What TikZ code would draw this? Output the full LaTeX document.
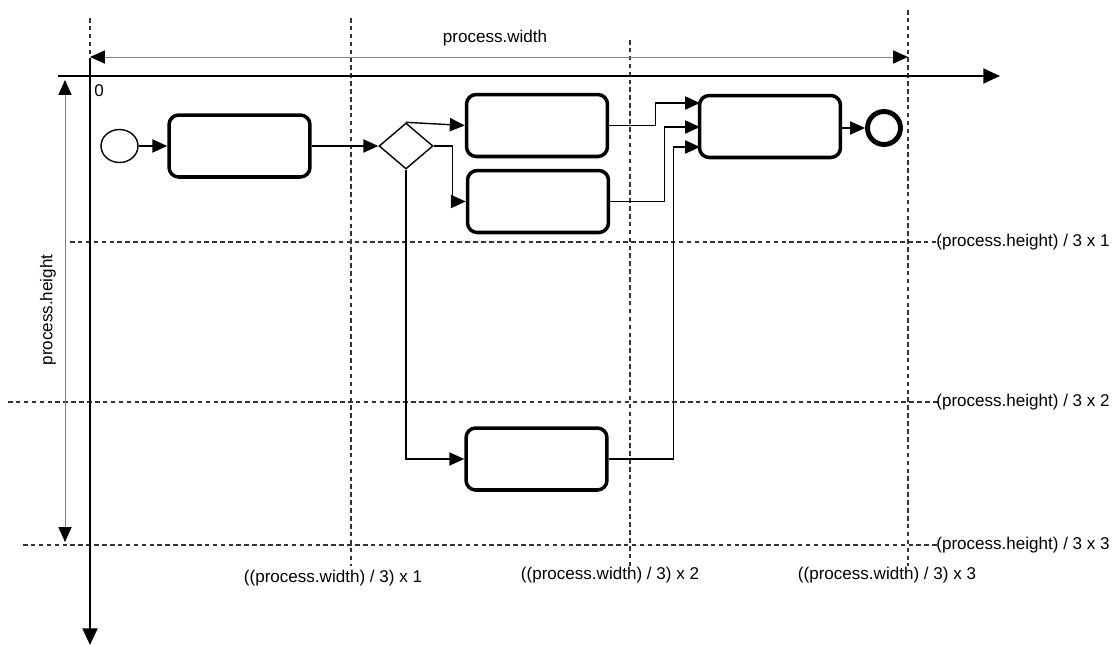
\documentclass[tikz,border=0pt]{standalone}
\usepackage{fontspec}
\setmainfont{Liberation Sans}
\usetikzlibrary{arrows.meta,shapes.geometric,calc}
\begin{document}
\begin{tikzpicture}[x=0.02cm,y=-0.02cm,
  every node/.style={font=\fontsize{9.7}{11}\selectfont},
  task/.style={draw,line width=2pt,rounded corners=5.5pt,minimum width=2.82cm,minimum height=1.24cm,inner sep=0pt},
  flow/.style={line width=0.8pt,-{Triangle[length=8.5pt,width=7.5pt]}},
  axis/.style={line width=1.3pt,-{Triangle[length=9.5pt,width=8.5pt]}},
  dim/.style={line width=0.5pt,draw=black!50,{Triangle[length=8.5pt,width=7.5pt,color=black]}-{Triangle[length=8.5pt,width=7.5pt,color=black]}},
  guide/.style={line width=0.6pt,draw=black!80,dash pattern=on 2.6pt off 1.9pt},
  lbl/.style={inner sep=0pt}]
\useasboundingbox (0,0) rectangle (1117,646);
% guide lines
\draw[guide] (90,18) -- (90,58);
\draw[guide] (351,18) -- (351,566);
\draw[guide] (630,40) -- (630,566);
\draw[guide] (908,10) -- (908,566);
\draw[guide] (70,242) -- (940,242);
\draw[guide] (8,402) -- (940,402);
\draw[guide] (23,545) -- (940,545);
% axes
\coordinate (xs) at (58,76);
\coordinate (xe) at (1000,76);
\coordinate (ys) at (90,58);
\coordinate (ye) at (90,645);
\draw[axis] (xs) -- (xe);
\draw[axis] (ys) -- (ye);
% dimensions
\coordinate (wl) at (90,57);
\coordinate (wr) at (908,57);
\coordinate (ht) at (65,80);
\coordinate (hb) at (65,542);
\draw[dim] (wl) -- (wr);
\draw[dim] (ht) -- (hb);
\node[lbl] (wlab) at (495,38) {process.width};
\node[lbl,rotate=90] (hlab) at (48,310) {process.height};
\node[lbl] (zero) at (99,91) {0};
% guide labels
\node[lbl,anchor=west] (h1) at (936,242) {(process.height) / 3 x 1};
\node[lbl,anchor=west] (h2) at (936,402) {(process.height) / 3 x 2};
\node[lbl,anchor=west] (h3) at (936,545) {(process.height) / 3 x 3};
\node[lbl] (w1) at (333,578) {((process.width) / 3) x 1};
\node[lbl] (w2) at (610,575) {((process.width) / 3) x 2};
\node[lbl] (w3) at (887,575) {((process.width) / 3) x 3};
% process
\node[draw,ellipse,line width=0.8pt,minimum width=0.74cm,minimum height=0.66cm,inner sep=0pt] (s) at (119.5,146) {};
\node[task] (t1) at (239.5,146) {};
\node[draw,diamond,line width=0.8pt,minimum width=1.08cm,minimum height=0.92cm,inner sep=0pt] (gw) at (406,146) {};
\node[task] (t2) at (537,125.5) {};
\node[task] (t3) at (538,201.5) {};
\node[task] (t4) at (536.5,459) {};
\node[task] (t5) at (770,126.5) {};
\node[draw,circle,line width=2.8pt,minimum size=0.66cm,inner sep=0pt] (e) at (884,128) {};
\coordinate (i1) at (700,103);
\coordinate (i2) at (700,127);
\coordinate (i3) at (700,147);
\draw[flow] (s) -- (t1);
\draw[flow] (t1.east) -- (gw.west);
\draw[flow] (gw.north) -- (t2.west);
\draw[flow] (gw.east) -- ++(19,0) |- (t3.west);
\draw[flow] (gw.south) |- (t4.west);
\draw[flow] (t2.east) -- ++(46,0) |- (i1);
\draw[flow] (t3.east) -- ++(54,0) |- (i2);
\draw[flow] (t4.east) -- ++(65,0) |- (i3);
\draw[flow] (t5.east |- e) -- (e.west);
\end{tikzpicture}
\end{document}
